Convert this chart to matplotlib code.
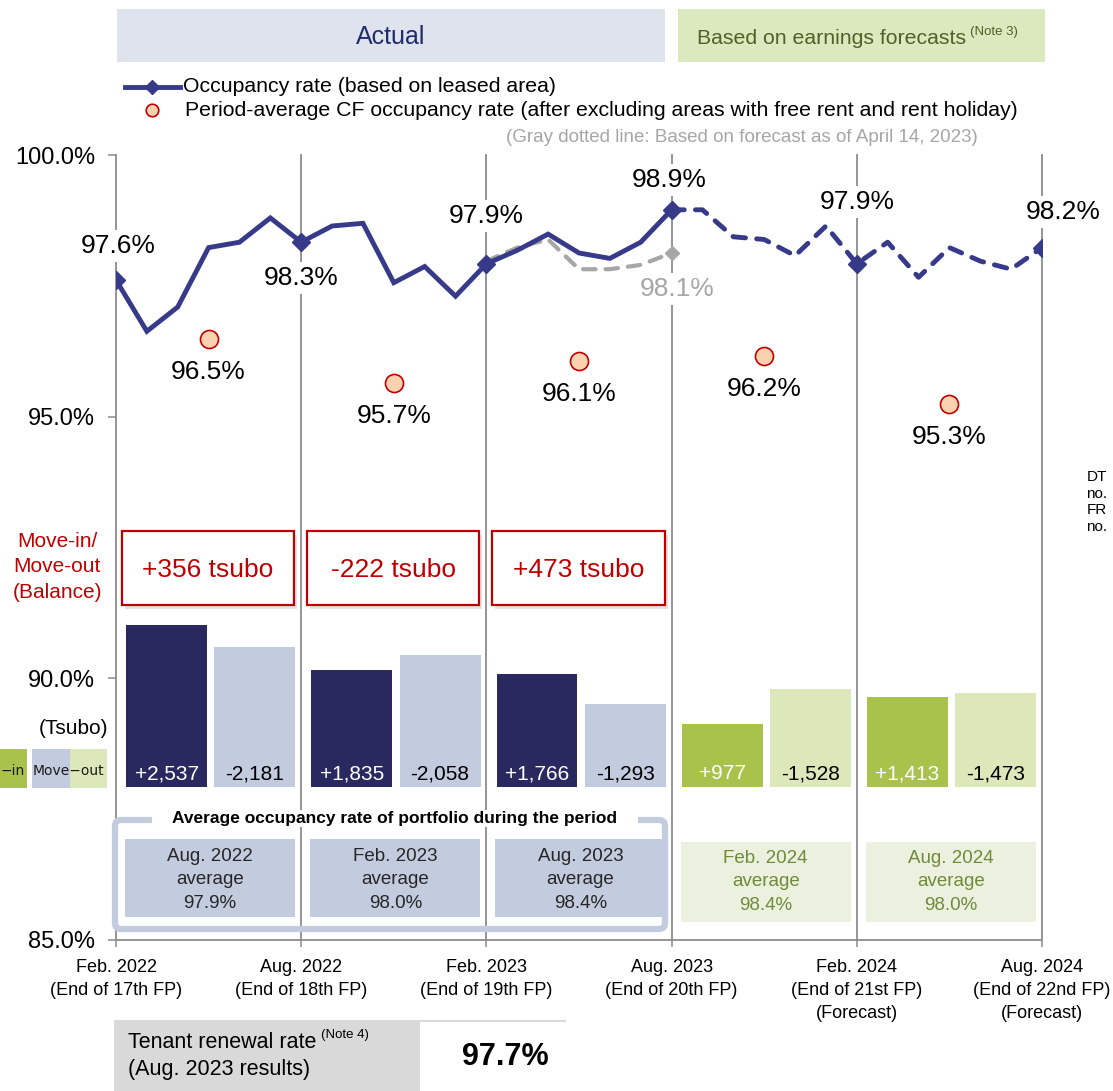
import matplotlib
matplotlib.use('Agg')
import matplotlib.pyplot as plt
from matplotlib.patches import Rectangle, FancyBboxPatch
from matplotlib.lines import Line2D
import numpy as np

plt.rcParams['font.family'] = ['Liberation Sans', 'DejaVu Sans']

# ---------------- data ----------------
period_labels = ["Feb. 2022\n(End of 17th FP)", "Aug. 2022\n(End of 18th FP)",
                 "Feb. 2023\n(End of 19th FP)", "Aug. 2023\n(End of 20th FP)",
                 "Feb. 2024\n(End of 21st FP)\n(Forecast)",
                 "Aug. 2024\n(End of 22nd FP)\n(Forecast)"]
# monthly occupancy, Feb 2022 .. Aug 2023 (actual)
occ_actual = [97.6, 96.65, 97.1, 98.2, 98.3, 98.75, 98.3, 98.6, 98.65, 97.55,
              97.85, 97.3, 97.9, 98.15, 98.45, 98.1, 98.0, 98.3, 98.9]
# monthly occupancy, Aug 2023 .. Aug 2024 (forecast)
occ_forecast = [98.9, 98.9, 98.4, 98.35, 98.05, 98.6, 97.9, 98.3, 97.65,
                98.2, 97.95, 97.8, 98.2]
# previous forecast (Apr 14, 2023), Feb 2023 .. Aug 2023
occ_prev_forecast = [97.95, 98.2, 98.35, 97.8, 97.8, 97.88, 98.1]
cf_avg = [96.5, 95.7, 96.1, 96.2, 95.3]
move_in = [2537, 1835, 1766, 977, 1413]
move_out = [2181, 2058, 1293, 1528, 1473]
balance = [356, -222, 473]
avg_periods = ["Aug. 2022", "Feb. 2023", "Aug. 2023", "Feb. 2024", "Aug. 2024"]
avg_occ = [97.9, 98.0, 98.4, 98.4, 98.0]
renewal_rate = 97.7
y_ticks = [85, 90, 95, 100]

# ---------------- style ----------------
NAVY = '#363A89'
DARKBAR = '#29295F'
LIGHTBAR = '#C3CBDE'
GREENBAR = '#A8C24B'
LIGHTGREEN = '#DCE7BA'
GRID = '#8C8C8C'
GRAY = '#A6A6A6'
RED = '#C00000'
OLIVE = '#6F8B3A'

W, H = 1113, 1091
fig = plt.figure(figsize=(W / 100, H / 100), dpi=100)

PX0, PX1, PY0, PY1 = 116, 1042, 155, 940   # axes pixel box
ax = fig.add_axes([PX0 / W, 1 - PY1 / H, (PX1 - PX0) / W, (PY1 - PY0) / H])
ax.set_xlim(0, 30)
ax.set_ylim(85, 100)
for s in ['left', 'right', 'top']:
    ax.spines[s].set_visible(False)
ax.spines['bottom'].set_color(GRID)
ax.spines['bottom'].set_linewidth(1.3)
ax.set_yticks(y_ticks)
ax.set_yticklabels([f"{t:.1f}%" for t in y_ticks], fontsize=17)
ax.tick_params(axis='y', length=6, width=1.1, color=GRID, pad=9)
ends = np.arange(0, 31, 6)
ax.set_xticks(ends)
ax.set_xticklabels(period_labels, fontsize=13, linespacing=1.45)
ax.tick_params(axis='x', length=5, width=1.1, color=GRID, pad=9)
for x in ends:
    ax.axvline(x, color=GRID, lw=1.3, zorder=0, clip_on=False)

# ---- bars (move-in / move-out) ----
axb = ax.twinx()
k = 0.064
axb.set_ylim(-(PY1 - 787) / k, (787 - PY0) / k)
axb.axis('off')
centers = np.arange(5) * 6
in_colors = [DARKBAR] * 3 + [GREENBAR] * 2
out_colors = [LIGHTBAR] * 3 + [LIGHTGREEN] * 2
bw = 2.62
axb.bar(centers + 1.64, move_in, width=bw, color=in_colors, zorder=2)
axb.bar(centers + 4.50, move_out, width=bw, color=out_colors, zorder=2)
for i in range(5):
    axb.annotate(f"+{move_in[i]:,}", (centers[i] + 1.64, 0), xytext=(0, 9.5),
                 textcoords='offset points', ha='center', va='center',
                 fontsize=15, color='white')
    axb.annotate(f"-{move_out[i]:,}", (centers[i] + 4.50, 0), xytext=(0, 9.5),
                 textcoords='offset points', ha='center', va='center',
                 fontsize=15, color='black')

# ---- occupancy lines ----
axl = ax.twinx()
scale = 54.0
axl.set_ylim(97.6 - (PY1 - 280) / scale, 97.6 + (280 - PY0) / scale)
axl.axis('off')
x_act = np.arange(len(occ_actual))
x_fc = np.arange(18, 18 + len(occ_forecast))
x_prev = np.arange(12, 12 + len(occ_prev_forecast))
axl.plot(x_prev, occ_prev_forecast, color=GRAY, lw=3.0, dashes=(3, 2.4),
         dash_capstyle='round', zorder=3)
axl.plot(x_prev[-1], occ_prev_forecast[-1], 'D', color=GRAY, ms=7, zorder=3)
axl.plot(x_fc, occ_forecast, color=NAVY, lw=3.5, dashes=(2.6, 2.3),
         dash_capstyle='round', marker='D', ms=9, markevery=[6, 12], zorder=4)
axl.plot(x_act, occ_actual, color=NAVY, lw=3.5, marker='D', ms=9,
         markevery=6, solid_joinstyle='miter', zorder=5)
axl.plot(centers + 3, cf_avg, 'o', ms=13, mfc='#FAD2B0', mec=RED, mew=1.2,
         zorder=5)

bbox_w = dict(boxstyle='square,pad=0.15', fc='white', ec='none')
end_vals = [occ_actual[0], occ_actual[6], occ_actual[12], occ_actual[18],
            occ_forecast[6], occ_forecast[12]]
offs = [(2, -34), (0, 36), (0, -48), (-2, -30), (0, -62), (21, -36)]
for x, v, (dx, dy) in zip(ends, end_vals, offs):
    axl.annotate(f"{v:.1f}%", (x, v), xytext=(dx * 0.72, -dy * 0.72),
                 textcoords='offset points', ha='center', va='center',
                 fontsize=19, bbox=bbox_w, zorder=6, annotation_clip=False)
axl.annotate(f"{occ_prev_forecast[-1]:.1f}%", (x_prev[-1], occ_prev_forecast[-1]),
             xytext=(6 * 0.72, -36 * 0.72), textcoords='offset points',
             ha='center', va='center', fontsize=19, color=GRAY, bbox=bbox_w,
             zorder=6)
for i, v in enumerate(cf_avg):
    axl.annotate(f"{v:.1f}%", (centers[i] + 3, v), xytext=(0, -33 * 0.72),
                 textcoords='offset points', ha='center', va='center',
                 fontsize=19, zorder=6)

# ---------------- overlay (pixel coords) ----------------
ov = fig.add_axes([0, 0, 1, 1], zorder=10)
ov.set_xlim(0, W)
ov.set_ylim(H, 0)
ov.axis('off')


def mpx(m):
    return PX0 + m * (PX1 - PX0) / 30.0


# header
ov.add_patch(Rectangle((117, 9), 548, 53, fc='#DEE3EE', ec='none'))
ov.text(391, 37, "Actual", ha='center', va='center', fontsize=18, color='#1F2D6B')
ov.add_patch(Rectangle((678, 9), 367, 53, fc='#DCE8BE', ec='none'))
t3 = ov.text(697, 38, "Based on earnings forecasts", ha='left', va='center',
             fontsize=15.3, color='#4F6228')
ov.annotate("(Note 3)", xy=(1, 0.5), xycoords=t3, xytext=(3, 4.5),
            textcoords='offset points', ha='left', va='center', fontsize=9.5,
            color='#4F6228')

# legend
ov.add_line(Line2D([125, 180], [87, 87], color=NAVY, lw=3.5))
ov.add_line(Line2D([152], [87], color=NAVY, marker='D', ms=7))
ov.text(183, 87, "Occupancy rate (based on leased area)", ha='left', va='center',
        fontsize=15.3)
ov.add_line(Line2D([152], [110], ls='none', marker='o', ms=9, mfc='#FAD2B0',
                   mec=RED, mew=1.2))
ov.text(185, 110, "Period-average CF occupancy rate (after excluding areas with "
        "free rent and rent holiday)", ha='left', va='center', fontsize=15.3)
ov.text(978, 138, "(Gray dotted line: Based on forecast as of April 14, 2023)",
        ha='right', va='center', fontsize=13.5, color=GRAY)

# balance boxes
for i, b in enumerate(balance):
    x0 = mpx(6 * i) + 6
    x1 = mpx(6 * i + 6) - 7
    ov.add_patch(Rectangle((x0 + 3, 535), x1 - x0, 74, fc='#BFBFBF', ec='none',
                           alpha=0.45))
    ov.add_patch(Rectangle((x0, 531), x1 - x0, 74, fc='white', ec=RED, lw=1.6))
    ov.text((x0 + x1) / 2, 570, f"{b:+d} tsubo", ha='center', va='center',
            fontsize=19, color=RED)
ov.text(57, 567, "Move-in/\nMove-out\n(Balance)", ha='center', va='center',
        fontsize=15, color=RED, linespacing=1.45)
ov.text(108, 728, "(Tsubo)", ha='right', va='center', fontsize=15)

# clipped legend fragments
ov.add_patch(Rectangle((0, 749), 27, 39, fc=GREENBAR, ec='none'))
ov.add_patch(Rectangle((32, 749), 38, 39, fc=LIGHTBAR, ec='none'))
ov.add_patch(Rectangle((70, 749), 37, 39, fc=LIGHTGREEN, ec='none'))
ov.text(13, 771, "\u2212in", ha='center', va='center', fontsize=10,
        family='DejaVu Sans', color='#1A1A1A')
ov.text(68, 771, "Move\u2212out", ha='center', va='center', fontsize=10,
        family='DejaVu Sans', color='#1A1A1A')

# average occupancy section
ov.add_patch(FancyBboxPatch((115, 820), 550, 109,
                            boxstyle='round,pad=0,rounding_size=6',
                            fc='none', ec=LIGHTBAR, lw=4.5))
ov.add_patch(Rectangle((152, 810), 486, 17, fc='white', ec='none'))
ov.text(395, 818, "Average occupancy rate of portfolio during the period",
        ha='center', va='center', fontsize=12.5, fontweight='bold')
for i in range(5):
    x0 = mpx(6 * i) + 9
    x1 = mpx(6 * i + 6) - 6
    if i < 3:
        y0, y1, fc, tc = 839, 917, LIGHTBAR, '#262626'
        ty = 880
    else:
        y0, y1, fc, tc = 842, 922, '#EBF1DE', OLIVE
        ty = 882
    ov.add_patch(Rectangle((x0, y0), x1 - x0, y1 - y0, fc=fc, ec='none'))
    ov.text((x0 + x1) / 2, ty, f"{avg_periods[i]}\naverage\n{avg_occ[i]:.1f}%",
            ha='center', va='center', fontsize=13.5, color=tc, linespacing=1.47)

# tenant renewal
ov.add_patch(Rectangle((114, 1020), 306, 71, fc='#D9D9D9', ec='none'))
ov.add_line(Line2D([420, 565], [1021, 1021], color='#D9D9D9', lw=1.5))
t4 = ov.text(128, 1043, "Tenant renewal rate", ha='left', va='center',
             fontsize=15.5)
ov.annotate("(Note 4)", xy=(1, 0.5), xycoords=t4, xytext=(3, 6),
            textcoords='offset points', ha='left', va='center', fontsize=9.5)
ov.text(128, 1070, "(Aug. 2023 results)", ha='left', va='center', fontsize=15.5)
ov.text(505, 1057, f"{renewal_rate:.1f}%", ha='center', va='center',
        fontsize=22, fontweight='bold')

ov.text(1097, 502, "DT\nno.\nFR\nno.", ha='center', va='center', fontsize=11,
        linespacing=1.25)

fig.savefig('out.png', dpi=100)
